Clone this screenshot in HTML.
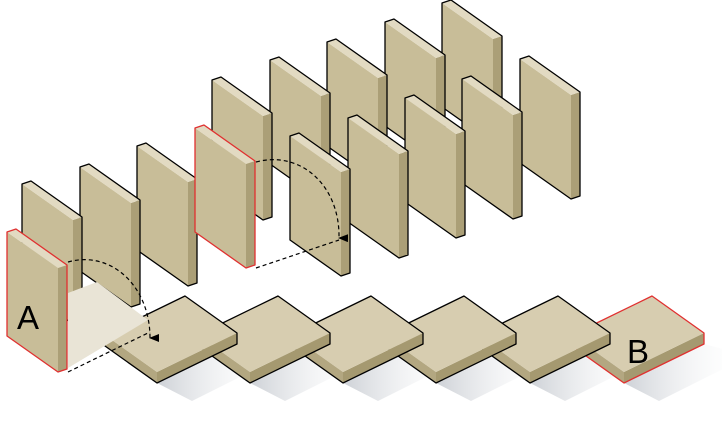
<!DOCTYPE html>
<html><head><meta charset="utf-8"><style>
html,body{margin:0;padding:0;background:#fff;width:722px;height:432px;overflow:hidden}
svg{display:block}
text{font-family:"Liberation Sans",sans-serif;font-size:33px;fill:#000}
</style></head><body>
<svg id="s" width="722" height="432" viewBox="0 0 722 432" xmlns="http://www.w3.org/2000/svg">
<defs>
<linearGradient id="sh" x1="0" y1="0" x2="1" y2="0">
<stop offset="0" stop-color="#c8ccd2" stop-opacity="0.9"/>
<stop offset="1" stop-color="#ffffff" stop-opacity="0"/>
</linearGradient>
<marker id="ar" markerWidth="8" markerHeight="10" refX="4" refY="9" orient="auto-start-reverse" markerUnits="userSpaceOnUse">
<path d="M0,0 L8,0 L4,10 z" fill="#000"/>
</marker>
</defs>
<g id="g"></g>
<text x="17" y="329">A</text>
<text x="627" y="363">B</text>
</svg>
<script>
var g=document.getElementById('g'),h='';
function P(pts,fill,stroke,sw){return '<polygon points="'+pts.map(function(p){return p[0]+','+p[1]}).join(' ')+'" fill="'+fill+'" stroke="'+(stroke||'none')+'" stroke-width="'+(sw||1)+'" stroke-linejoin="round"/>';}
function S(x,y,red){
 var c=red?'#e03030':'#000';
 h+=P([[x,y],[x+51,y+36],[x+51,y+140],[x,y+104]],'#c8bd98');
 h+=P([[x+51,y+36],[x+60,y+33],[x+60,y+137],[x+51,y+140]],'#ab9f77');
 h+=P([[x,y],[x+9,y-3],[x+60,y+33],[x+51,y+36]],'#e2dac2');
 h+=P([[x,y],[x+9,y-3],[x+60,y+33],[x+60,y+137],[x+51,y+140],[x,y+104]],'none',c,1.3);
}
function SH(x,y){
 var R=[x+52,y+37],B=[x-28,y+76],d=11;
 h+=P([[B[0],B[1]+d],[R[0],R[1]+d],[R[0]+45,R[1]+d+12],[B[0]+35,B[1]+d+18]],'url(#sh)');
}
function F(x,y,red){
 var c=red?'#e03030':'#000',T=[x,y],R=[x+52,y+37],B=[x-28,y+76],L=[x-80,y+39],d=11;
 h+=P([L,B,[B[0],B[1]+d],[L[0],L[1]+d]],'#b3a781');
 h+=P([B,R,[R[0],R[1]+d],[B[0],B[1]+d]],'#a59970');
 h+=P([T,R,B,L],'#d7cdb0');
 h+=P([L,T,R,[R[0],R[1]+d],[B[0],B[1]+d],[L[0],L[1]+d]],'none',c,1.3);
}
var flats=[[652,296,true],[558,296],[464,296],[371,296],[278,296],[185,296]];
flats.forEach(function(a){SH(a[0],a[1])});
[[442,3],[385,22],[327,42],[270,60],[212,80]].forEach(function(a){S(a[0],a[1])});
[[520,59],[462,79],[405,98],[348,118],[290,136]].forEach(function(a){S(a[0],a[1])});
S(137,146);S(80,167);S(22,184);
S(195,128,true);
flats.forEach(function(a){F(a[0],a[1],a[2])});
h+=P([[68,293],[97,282],[148,320],[68,368]],'#e9e4d6');
S(7,232,true);
h+='<path d="M68,262 C110,250 150,285 150,338" fill="none" stroke="#000" stroke-width="1.2" stroke-dasharray="4,3" marker-end="url(#ar)"/>';
h+='<path d="M68,372 L150,332" fill="none" stroke="#000" stroke-width="1.2" stroke-dasharray="4,3"/>';
h+='<path d="M256,162 C300,150 340,185 339,238" fill="none" stroke="#000" stroke-width="1.2" stroke-dasharray="4,3" marker-end="url(#ar)"/>';
h+='<path d="M256,268 L339,240" fill="none" stroke="#000" stroke-width="1.2" stroke-dasharray="4,3"/>';
g.innerHTML=h;
</script>
</body></html>
